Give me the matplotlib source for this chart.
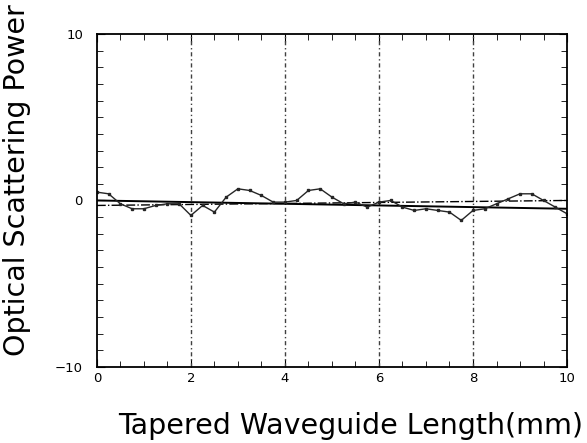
import matplotlib
matplotlib.use("Agg")
import matplotlib.pyplot as plt
from matplotlib.ticker import MultipleLocator

# scattering power along the taper
length_mm = [0, 0.25, 0.5, 0.75, 1.0, 1.25, 1.5, 1.75, 2.0, 2.25, 2.5, 2.75, 3.0, 3.25,
             3.5, 3.75, 4.0, 4.25, 4.5, 4.75, 5.0, 5.25, 5.5, 5.75, 6.0, 6.25, 6.5, 6.75,
             7.0, 7.25, 7.5, 7.75, 8.0, 8.25, 8.5, 8.75, 9.0, 9.25, 9.5, 9.75, 10]
power = [0.5, 0.4, -0.2, -0.5, -0.5, -0.3, -0.2, -0.2, -0.9, -0.3, -0.7, 0.2, 0.7, 0.6,
         0.3, -0.1, -0.1, 0.0, 0.6, 0.7, 0.2, -0.2, -0.1, -0.4, -0.1, 0.0, -0.4, -0.6,
         -0.5, -0.6, -0.7, -1.2, -0.6, -0.5, -0.2, 0.1, 0.4, 0.4, 0.0, -0.4, -0.8]

# reference (fit) lines
fit_x = [0, 10]
fit_solid = [0.0, -0.5]
fit_dashdot = [-0.3, 0.0]

xticks = [0, 2, 4, 6, 8, 10]
yticks = [-10, 0, 10]

fig = plt.figure(figsize=(5.87, 4.43), dpi=100)
ax = fig.add_axes([0.165, 0.172, 0.801, 0.751])

for xv in xticks[1:-1]:
    ax.axvline(xv, color="0.25", lw=1.0, ls=(0, (3, 2, 1, 2)))

ax.plot(fit_x, fit_solid, color="k", lw=1.4)
ax.plot(fit_x, fit_dashdot, color="k", lw=1.0, ls="-.")
ax.plot(length_mm, power, color="0.15", lw=1.0, marker="s", ms=1.5)

ax.set_xlim(0, 10)
ax.set_ylim(-10, 10)
ax.set_xticks(xticks)
ax.set_yticks(yticks)
ax.xaxis.set_minor_locator(MultipleLocator(0.5))
ax.yaxis.set_minor_locator(MultipleLocator(1))
ax.tick_params(which="both", direction="in", top=True, right=True, labelsize=9.5)
ax.tick_params(which="major", length=6)
ax.tick_params(which="minor", length=4)
ax.tick_params(axis="y", pad=10)
for s in ax.spines.values():
    s.set_linewidth(1.3)

ax.set_xlabel("Tapered Waveguide Length(mm)", fontsize=20.5)
ax.set_ylabel("Optical Scattering Power", fontsize=20.5)
ax.xaxis.set_label_coords(0.54, -0.135)
ax.yaxis.set_label_coords(-0.14, 0.56)

fig.savefig("out.png", dpi=100)
